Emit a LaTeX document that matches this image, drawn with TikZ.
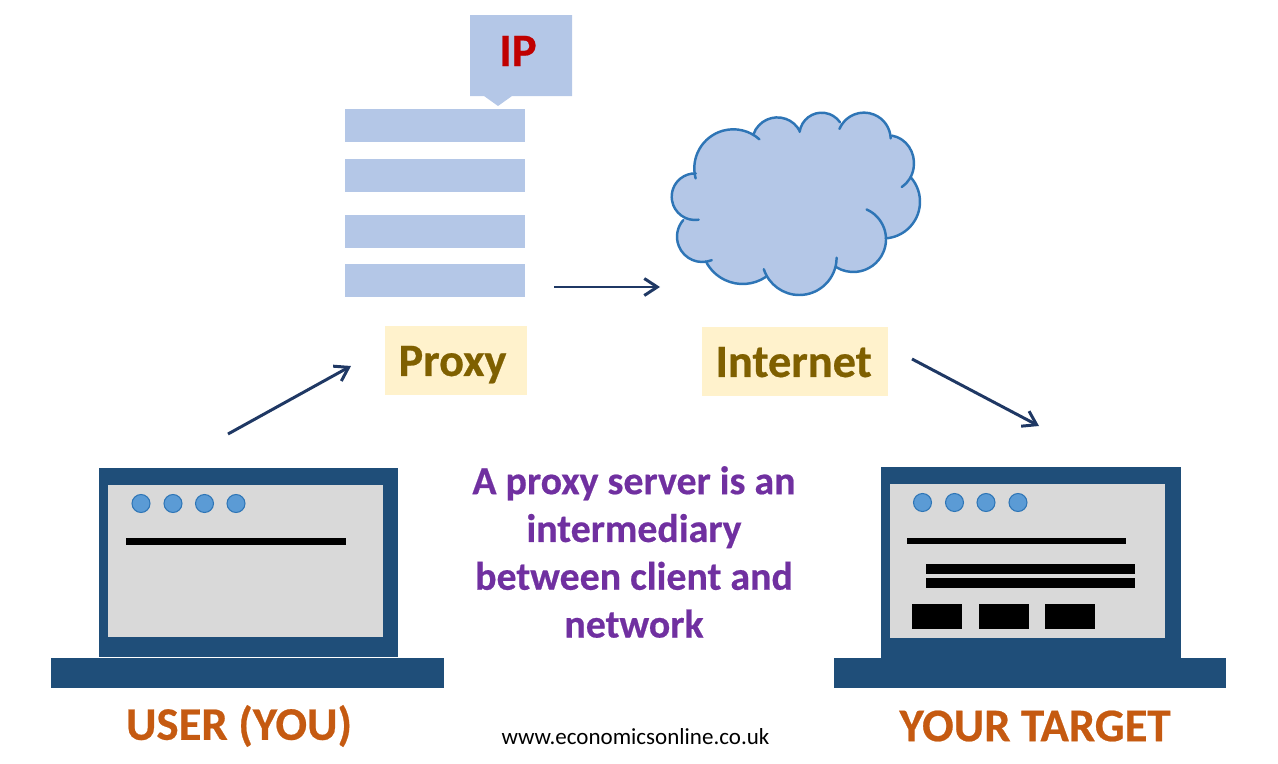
\documentclass[tikz,border=0pt]{standalone}
\usepackage{fontspec}
\setmainfont{Carlito}[BoldFeatures={FakeBold=0.5}]
\usepackage{xcolor}
\usetikzlibrary{arrows.meta,positioning}
\definecolor{cSlab}{HTML}{B4C7E7}
\definecolor{cCloud}{HTML}{2E75B6}
\definecolor{cNote}{HTML}{FFF2CC}
\definecolor{cNoteText}{HTML}{7F6000}
\definecolor{cIp}{HTML}{C00000}
\definecolor{cNavy}{HTML}{1F4E79}
\definecolor{cPane}{HTML}{D9D9D9}
\definecolor{cDot}{HTML}{5B9BD5}
\definecolor{cLine}{HTML}{1F3864}
\definecolor{cOrange}{HTML}{C55A11}
\definecolor{cPurple}{HTML}{7030A0}
\tikzset{
  slab/.style    = {rectangle, fill=cSlab, inner sep=0pt, minimum width=3.6cm, minimum height=0.66cm},
  note/.style    = {rectangle, fill=cNote, text=cNoteText, inner sep=0pt, minimum height=1.38cm,
                    text height=17.6pt, text depth=0pt,
                    font=\fontsize{26.4}{30}\selectfont\bfseries},
  body/.style    = {fill=cNavy},
  pane/.style    = {fill=cPane},
  dot/.style     = {circle, fill=cDot, draw=cCloud, line width=0.6pt, inner sep=0pt, minimum size=0.36cm},
  bar/.style     = {fill=black},
  lobe/.style    = {draw=cCloud, line width=1.4pt, line cap=round},
  fl/.style      = {-{Straight Barb[length=2.6mm,width=3.4mm]}, draw=cLine, line width=1.7pt},
  caption/.style = {text=cOrange, font=\fontsize{26.6}{30}\selectfont\bfseries},
}
\begin{document}
\begin{tikzpicture}[x=0.02cm,y=-0.02cm]
  \useasboundingbox (0,0) rectangle (1278,764);

  % ---- proxy rack and its address tag ----
  \foreach \n/\y in {a/125.5,b/175.5,c/231.5,d/280.5}
    \node[slab] (rack\n) at (435,\y) {};
  \fill[cSlab] (470,15) -- (572,15) -- (572,96) -- (512,96) -- (498,106) -- (484,96) -- (470,96) -- cycle;
  \node[text=cIp, font=\fontsize{26.5}{30}\selectfont\bfseries] (ip) at (518,51) {IP};
  \node[note, minimum width=2.84cm] (proxy) at (456,360.5) {\hspace*{-4pt}Proxy};

  % ---- internet cloud: x, y, x radius, y radius, first and last angle of each lobe ----
  \fill[cSlab] (695,197) -- (733,168) -- (777,143) -- (822,135) -- (864,139) -- (884,202)
    -- (853,239) -- (799,258) -- (743,243) -- (702,237) -- cycle;
  \foreach \cx/\cy/\rx/\ry/\a/\b in {
      695/196.7/23.3/23.3/81/272,
      733.3/168.3/39/39/165/312,
      777.3/142.7/25.3/25.3/200/332,
      821.7/135/22.3/22.3/188/325,
      864/139.3/26.7/26.7/203/358,
      888/163.3/26/28/279/418,
      883.3/201.7/36.7/36.7/318/446,
      853.3/239.3/32.7/32.7/294/482,
      799.3/257.7/37.3/37.3/0/162,
      742.7/242.7/41.3/41.3/56/153,
      702.3/236.7/25.3/25.3/68/221} {
    \fill[cSlab] (\cx,\cy) circle[x radius=\rx, y radius=\ry];
  }
  % the lobes overlap, so their outlines go on above all the fills
  \foreach \cx/\cy/\rx/\ry/\a/\b in {
      695/196.7/23.3/23.3/81/272,
      733.3/168.3/39/39/165/312,
      777.3/142.7/25.3/25.3/200/332,
      821.7/135/22.3/22.3/188/325,
      864/139.3/26.7/26.7/203/358,
      888/163.3/26/28/279/418,
      883.3/201.7/36.7/36.7/318/446,
      853.3/239.3/32.7/32.7/294/482,
      799.3/257.7/37.3/37.3/0/162,
      742.7/242.7/41.3/41.3/56/153,
      702.3/236.7/25.3/25.3/68/221} {
    \draw[lobe] ({\cx+\rx*cos(\a)},{\cy+\ry*sin(\a)}) arc[start angle=\a, end angle=\b, x radius=\rx, y radius=\ry];
  }
  \node[note, minimum width=3.72cm] (internet) at (795,361.5) {\hspace*{-1.5pt}Internet};

  % ---- user laptop ----
  \fill[body] (99,468) rectangle (398,657);
  \fill[body] (51,658) rectangle (444,688);
  \fill[pane] (108,485) rectangle (383,637);
  \foreach \x in {141,173,204.5,236}
    \node[dot] (udot\x) at (\x,503.5) {};
  \fill[bar] (126,538) rectangle (345.5,545);
  \node[caption] (user) at (239,726) {USER (YOU)};

  % ---- target laptop ----
  \fill[body] (880.5,467) rectangle (1180.5,658);
  \fill[body] (834,657.5) rectangle (1226,688);
  \fill[pane] (889.5,484) rectangle (1165,638);
  \foreach \x in {922.5,954.5,986,1018}
    \node[dot] (tdot\x) at (\x,502.5) {};
  \fill[bar] (907,538) rectangle (1126,544);
  \fill[bar] (926,564) rectangle (1135,574);
  \fill[bar] (926,578) rectangle (1135,588);
  \foreach \x in {912,979,1045}
    \fill[bar] (\x,604) rectangle ++(50,25);
  \node[caption] (target) at (1035,726) {YOUR TARGET};

  % ---- arrows between the stations ----
  \coordinate (userout) at (228,434);
  \coordinate (proxyin) at (351,366);
  \coordinate (proxyout) at (554,287);
  \coordinate (cloudin) at (660,287);
  \coordinate (cloudout) at (912,359);
  \coordinate (targetin) at (1039,426);
  \draw[fl] (userout) -- (proxyin);
  \draw[fl] (proxyout) -- (cloudin);
  \draw[fl] (cloudout) -- (targetin);

  % ---- centre text ----
  \node[text=cPurple, align=center, font=\fontsize{22.7}{27.2}\selectfont\bfseries] (blurb) at (634,552)
    {A proxy server is an\\intermediary\\between client and\\network};
  \node[font=\fontsize{13.1}{15}\selectfont] (site) at (635.5,737) {www.economicsonline.co.uk};
\end{tikzpicture}
\end{document}
